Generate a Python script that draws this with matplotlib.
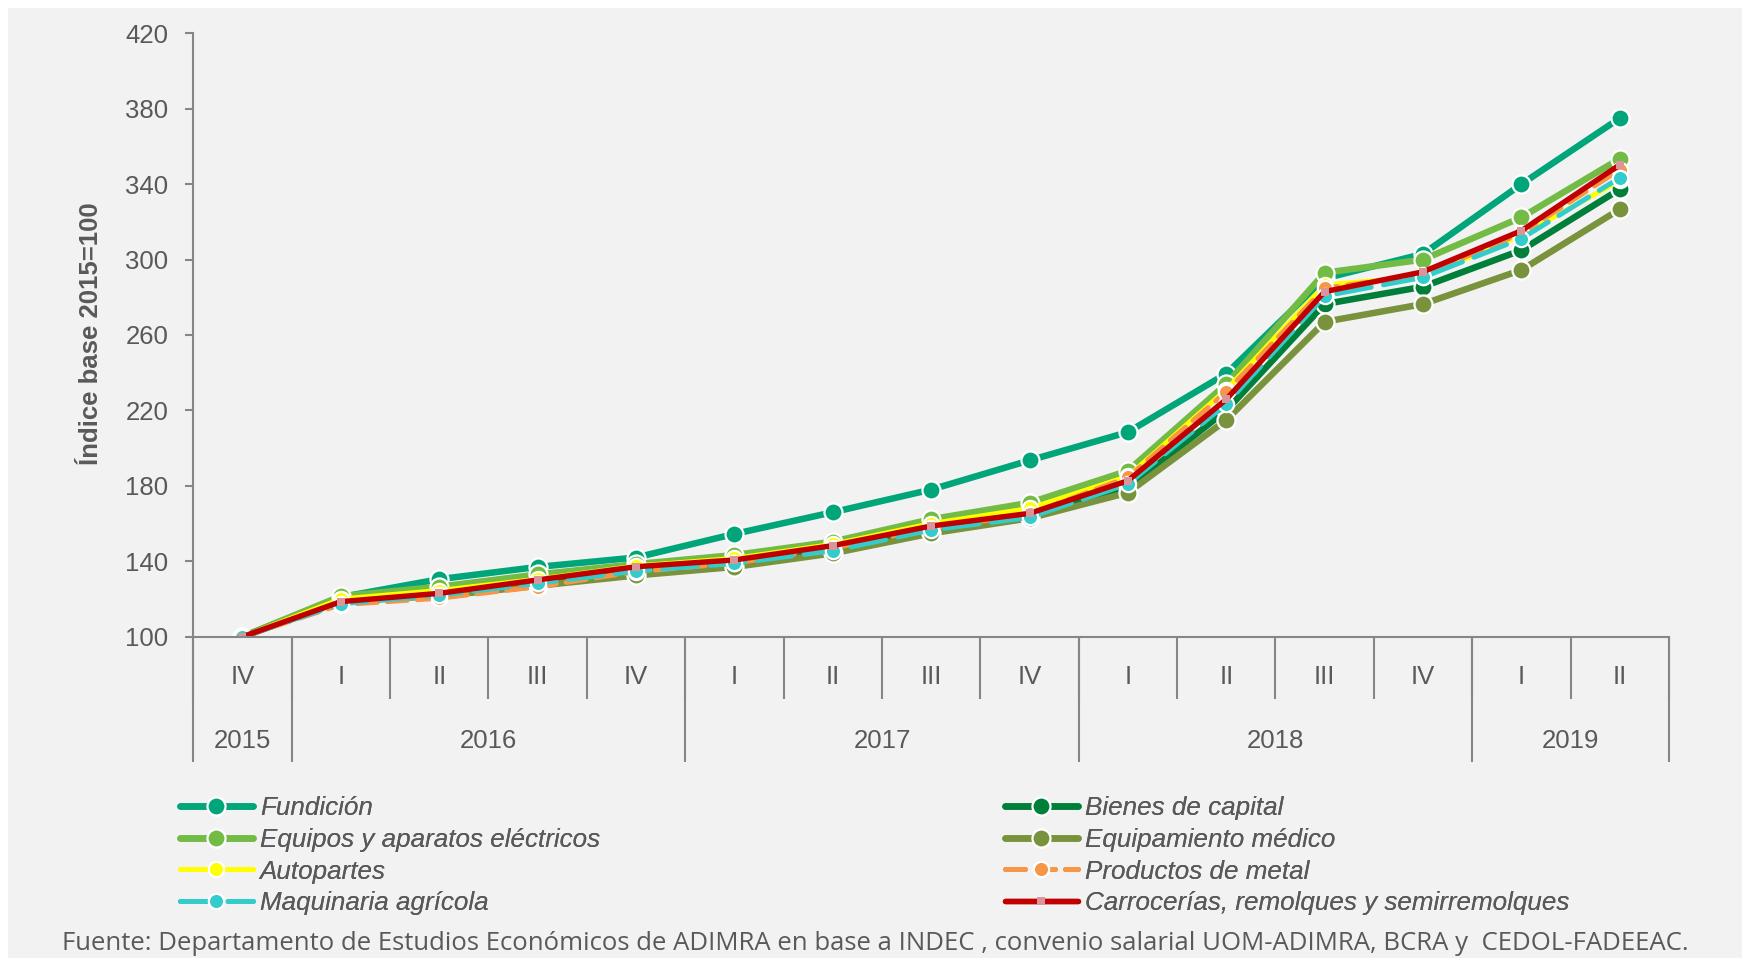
import numpy as np
import matplotlib
matplotlib.use("Agg")
import matplotlib.pyplot as plt
from matplotlib.patches import Rectangle

# --- data ---
quarters = ["IV", "I", "II", "III", "IV", "I", "II", "III", "IV",
            "I", "II", "III", "IV", "I", "II"]
years = ["2015", "2016", "2017", "2018", "2019"]
quarters_per_year = [1, 4, 4, 4, 2]

fundicion = [100, 121, 130.5, 137, 142, 154.5, 166, 178, 193.5, 208.5, 239.5, 290, 303, 340, 375]
bienes_capital = [100, 119, 122, 128, 134, 138, 145, 156, 163, 179, 220, 276.4, 285.6, 305, 337.3]
equipos_electricos = [100, 121.5, 126.5, 133, 138.5, 143.3, 150.4, 162.3, 171, 188, 234, 293, 300, 322.4, 353.5]
equipamiento_medico = [100, 119, 121.5, 127, 132.5, 137, 144.2, 154.8, 162.8, 176.4, 214.9, 267, 276.4, 294.5, 326.7]
autopartes = [100, 120, 124.5, 130.5, 137.5, 141.5, 149, 160, 168, 185, 231, 286.5, 291, 313, 342]
productos_metal = [100, 117, 120.4, 126.5, 134.5, 139, 147, 157.5, 165, 184.5, 229.9, 284.8, 292, 314, 347.7]
maquinaria_agricola = [100, 117.5, 122, 128.3, 134.8, 138.9, 145.6, 156.6, 163.3, 181, 223.4, 280.7, 290.6, 311.1, 343.4]
carrocerias = [100, 118.6, 123, 130.1, 137.1, 140.7, 148.3, 158.7, 165.4, 182.7, 225.9, 283, 293.5, 315.3, 350.3]

series_names = ["Fundición", "Bienes de capital", "Equipos y aparatos eléctricos",
                "Equipamiento médico", "Autopartes", "Productos de metal",
                "Maquinaria agrícola", "Carrocerías, remolques y semirremolques"]
series_values = [fundicion, bienes_capital, equipos_electricos, equipamiento_medico,
                 autopartes, productos_metal, maquinaria_agricola, carrocerias]

# styles per series
styles = [
    dict(color="#00A57A", lw=4.7, marker="o", ms=13),
    dict(color="#007F3B", lw=4.7, marker="o", ms=13),
    dict(color="#72BB44", lw=4.7, marker="o", ms=13),
    dict(color="#78933B", lw=4.7, marker="o", ms=13),
    dict(color="#FFFF00", lw=3.6, marker="o", ms=11),
    dict(color="#F79646", lw=3.6, marker="o", ms=11, dashes=(4, 2)),
    dict(color="#33CCCC", lw=3.6, marker="o", ms=11, dashes=(7, 2.5)),
    dict(color="#C00000", lw=3.9, marker="s", ms=6, mfc="#D9959A", mec="#D9959A", mew=0),
]

TXT = "#595959"
AX = "#868686"
plt.rcParams['font.family'] = ['Liberation Sans', 'DejaVu Sans']

W, H = 1742, 958
fig = plt.figure(figsize=(W / 100, H / 100), dpi=100, facecolor="white")
fig.patches.append(Rectangle((8 / W, 0), 1, 1 - 8 / H, transform=fig.transFigure,
                             facecolor="#F2F2F2", edgecolor="none", zorder=-10))

left, right = 193.3 / W, 1669 / W
top, bottom = 1 - 33.3 / H, 1 - 636.7 / H
ax = fig.add_axes([left, bottom, right - left, top - bottom])
ax.patch.set_visible(False)

x = np.arange(len(quarters)) + 0.5
handles = {}
for name, vals, st in zip(series_names, series_values, styles):
    st = dict(st)
    kw = dict(color=st.pop("color"), lw=st.pop("lw"), marker=st.pop("marker"),
              ms=st.pop("ms"), solid_capstyle="round", dash_capstyle="round")
    if "dashes" in st:
        kw["dashes"] = st.pop("dashes")
    kw.setdefault("mfc", kw["color"])
    kw["mec"] = "white"
    kw["mew"] = 1.6
    kw.update(st)
    (ln,) = ax.plot(x, vals, label=name, **kw)
    handles[name] = ln

ax.set_xlim(0, len(quarters))
ax.set_ylim(100, 420)
ax.set_yticks(np.arange(100, 421, 40))
ax.set_xticks([])
for s in ["top", "right"]:
    ax.spines[s].set_visible(False)
for s in ["left", "bottom"]:
    ax.spines[s].set_color(AX)
    ax.spines[s].set_linewidth(1.5)
ax.tick_params(axis="y", colors=AX, length=6, width=1.5, pad=12,
               labelsize=18.5, labelcolor=TXT)

# two-level category axis
xt = ax.get_xaxis_transform()
q_sep = -0.1033
y_sep = -0.2077
bounds = np.cumsum([0] + quarters_per_year)
ax.vlines(np.arange(len(quarters) + 1), q_sep, 0, colors=AX, lw=1.5,
          transform=xt, clip_on=False)
ax.vlines(bounds, y_sep, 0, colors=AX, lw=1.5, transform=xt, clip_on=False)
for xi, q in zip(x, quarters):
    ax.text(xi, -0.0675, q, transform=xt, ha="center", va="center",
            fontsize=18.5, color=TXT)
for i, yr in enumerate(years):
    ax.text((bounds[i] + bounds[i + 1]) / 2, -0.1735, yr, transform=xt,
            ha="center", va="center", fontsize=18.5, color=TXT)

fig.text(91 / W, 1 - 334 / H, "Índice base 2015=100", rotation=90, ha="center",
         va="center", fontsize=18.5, fontweight="bold", color=TXT)

# legend: two columns
left_col = ["Fundición", "Equipos y aparatos eléctricos", "Autopartes", "Maquinaria agrícola"]
right_col = ["Bienes de capital", "Equipamiento médico", "Productos de metal",
             "Carrocerías, remolques y semirremolques"]
for col, xa in [(left_col, 180 / W), (right_col, 1005 / W)]:
    leg = fig.legend([handles[n] for n in col], col, loc="upper left",
                     bbox_to_anchor=(xa, 1 - 796 / H), frameon=False,
                     borderpad=0, borderaxespad=0, handlelength=2.8,
                     handletextpad=0.27, labelspacing=0.3, numpoints=1,
                     prop=dict(family="Liberation Sans", style="italic", size=18.7))
    for t in leg.get_texts():
        t.set_color(TXT)
    fig.add_artist(leg)

fig.text(875.5 / W, 1 - 943 / H,
         "Fuente: Departamento de Estudios Económicos de ADIMRA en base a INDEC , "
         "convenio salarial UOM-ADIMRA, BCRA y  CEDOL-FADEEAC.",
         ha="center", va="center", fontsize=18.5, color=TXT,
         family=["Open Sans", "DejaVu Sans"])

fig.savefig("out.png", dpi=100, facecolor=fig.get_facecolor())
